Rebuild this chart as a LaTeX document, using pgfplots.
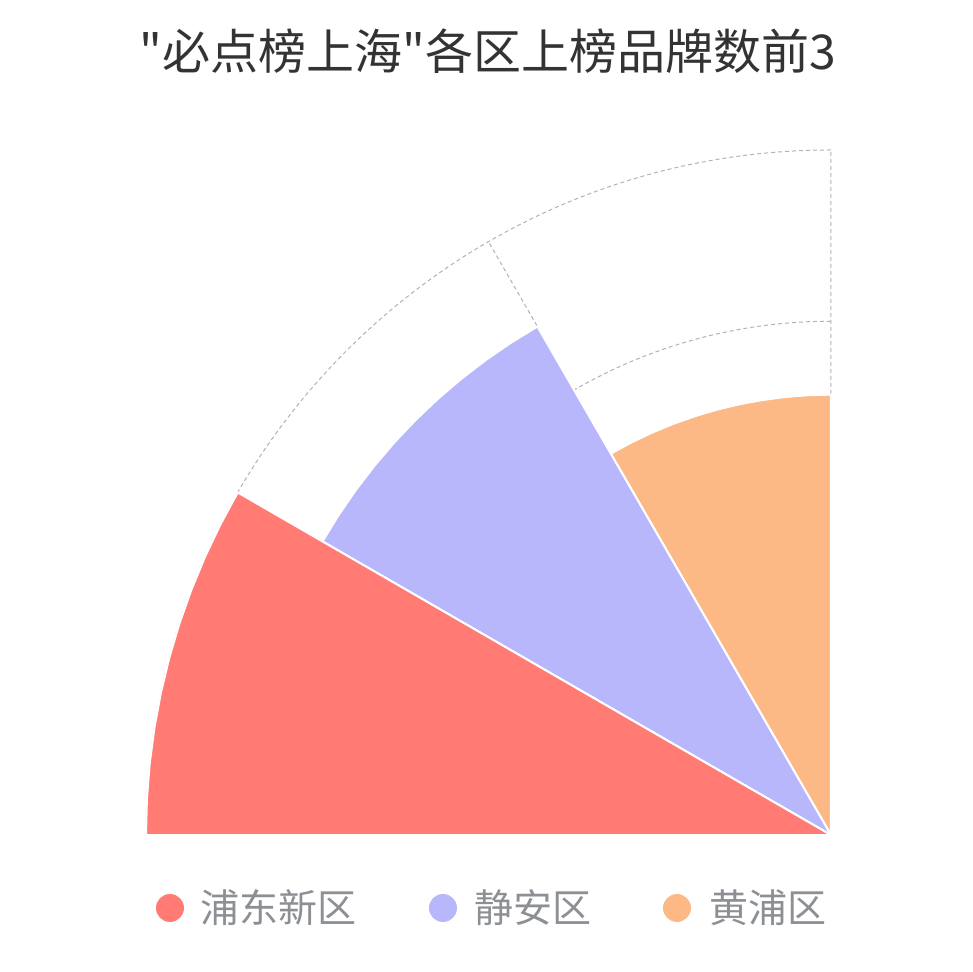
\documentclass[border=0pt]{standalone}
\usepackage{fontspec}
\setmainfont{Noto Sans CJK SC}[Ligatures=TeXOff]
\usepackage{pgfplots}
\usepgfplotslibrary{polar}
\pgfplotsset{compat=1.18}

\definecolor{pudong}{HTML}{FF7B73}
\definecolor{jingan}{HTML}{B8B7FC}
\definecolor{huangpu}{HTML}{FDB985}
\definecolor{titlegray}{HTML}{333333}
\definecolor{leggray}{HTML}{8C8F94}

\begin{document}
\begin{tikzpicture}
\useasboundingbox (-415.5bp,-68.5bp) rectangle (71bp,417.5bp);

\begin{polaraxis}[
  at={(0,0)}, anchor=south east,
  scale only axis,
  width=685bp, height=685bp,
  xmin=90, xmax=180,
  ymin=0, ymax=28,
  xtick={90,120,150,180},
  ytick={7,14,21,28},
  xticklabels={}, yticklabels={},
  major tick length=0pt,
  grid=major,
  major grid style={dash pattern=on 2bp off 1.5bp, draw=black!30, line width=0.5bp},
  axis line style={draw=none},
  clip=false,
]
% 黄浦区 (90-120 deg)
\addplot[fill=huangpu, draw=white, line width=1bp] coordinates {
  (90,0) (90,18) (93,18) (96,18) (99,18) (102,18) (105,18) (108,18)
  (111,18) (114,18) (117,18) (120,18) (120,0)
} -- cycle;
% 静安区 (120-150 deg)
\addplot[fill=jingan, draw=white, line width=1bp] coordinates {
  (120,0) (120,24) (123,24) (126,24) (129,24) (132,24) (135,24) (138,24)
  (141,24) (144,24) (147,24) (150,24) (150,0)
} -- cycle;
% 浦东新区 (150-180 deg)
\addplot[fill=pudong, draw=white, line width=1bp] coordinates {
  (150,0) (150,28) (153,28) (156,28) (159,28) (162,28) (165,28) (168,28)
  (171,28) (174,28) (177,28) (180,28) (180,0)
} -- cycle;
\end{polaraxis}

\node[anchor=base, text=titlegray, font=\fontsize{24bp}{28bp}\selectfont]
  at (-171.5bp,382.5bp) {"必点榜上海"各区上榜品牌数前3};

\fill[pudong] (-330.5bp,-36.5bp) circle (7bp);
\node[anchor=base west, inner sep=0pt, text=leggray, font=\fontsize{19.5bp}{23bp}\selectfont]
  at (-315.5bp,-43.5bp) {浦东新区};
\fill[jingan] (-194bp,-36.5bp) circle (7bp);
\node[anchor=base west, inner sep=0pt, text=leggray, font=\fontsize{19.5bp}{23bp}\selectfont]
  at (-178.5bp,-43.5bp) {静安区};
\fill[huangpu] (-77bp,-36.5bp) circle (7bp);
\node[anchor=base west, inner sep=0pt, text=leggray, font=\fontsize{19.5bp}{23bp}\selectfont]
  at (-61bp,-43.5bp) {黄浦区};
\end{tikzpicture}
\end{document}
